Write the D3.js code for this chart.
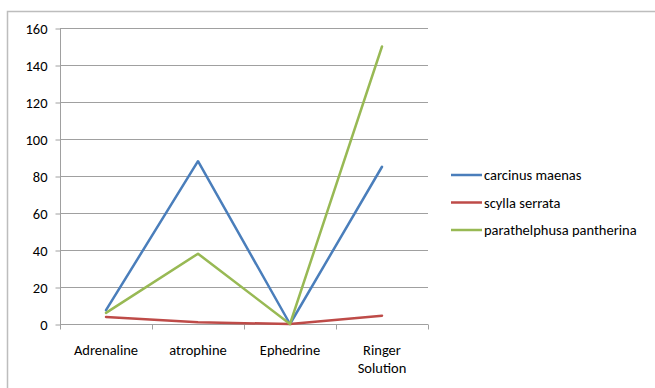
<!DOCTYPE html>
<html><head><meta charset="utf-8">
<script src="https://cdn.jsdelivr.net/npm/d3@7"></script>
<style>body{margin:0;background:#fff}svg{display:block;font-family:Carlito,Lato,"Open Sans",sans-serif}</style>
</head><body>
<script>
const categories = ["Adrenaline", "atrophine", "Ephedrine", "Ringer Solution"];
const seriesNames = ["carcinus maenas", "scylla serrata", "parathelphusa pantherina"];
const carcinus = [7.5, 88, 0, 85];
const scylla = [3.8, 0.9, 0, 4.5];
const parathelphusa = [6, 38, 0, 150];
const yTicks = [0, 20, 40, 60, 80, 100, 120, 140, 160];
const colors = ["#4a7ebb", "#be4b48", "#98b954"];
const FS = 14.5;

const W = 655, H = 388;
const svg = d3.select("body").append("svg").attr("width", W).attr("height", H);
svg.append("rect").attr("x", 7.5).attr("y", 11.5).attr("width", 700).attr("height", 400)
  .attr("fill", "none").attr("stroke", "#bdbdbd").attr("stroke-width", 1.5);

const x = d3.scaleBand().domain(categories).range([60, 428]);
const y = d3.scaleLinear().domain([0, 160]).range([324, 28]);

// gridlines
svg.append("g").selectAll("line").data(yTicks.filter(d => d > 0)).join("line")
  .attr("x1", 60).attr("x2", 428)
  .attr("y1", d => Math.round(y(d)) + 0.5).attr("y2", d => Math.round(y(d)) + 0.5)
  .attr("stroke", "#a0a0a0").attr("stroke-width", 1);

// y axis
const ya = svg.append("g").attr("transform", "translate(60.5,0.5)")
  .call(d3.axisLeft(y).tickValues(yTicks).tickSize(5).tickPadding(8));
ya.select(".domain").attr("stroke", "#a0a0a0").attr("d", `M0,${y(160)}V${y(0)}`);
ya.selectAll(".tick line").attr("stroke", "#a0a0a0");
ya.selectAll("text").attr("font-size", FS).attr("fill", "#000").attr("font-family", "Carlito,Lato,sans-serif");

// x axis
const xa = svg.append("g").attr("transform", `translate(0,${Math.round(y(0)) + 0.5})`);
xa.append("line").attr("x1", 60).attr("x2", 428).attr("stroke", "#a0a0a0");
const bounds = categories.map(c => x(c)).concat([x.range()[1]]);
xa.selectAll("line.t").data(bounds).join("line").attr("class", "t")
  .attr("x1", d => Math.round(d) + 0.5).attr("x2", d => Math.round(d) + 0.5)
  .attr("y1", 0).attr("y2", 5).attr("stroke", "#a0a0a0");
xa.selectAll("text").data(categories).join("text")
  .attr("x", d => x(d) + x.bandwidth() / 2).attr("y", 30)
  .attr("text-anchor", "middle").attr("font-size", FS).attr("fill", "#000")
  .each(function(d) {
    const words = d === "Ringer Solution" ? ["Ringer", "Solution"] : [d];
    words.forEach((w, i) => d3.select(this).append("tspan")
      .attr("x", x(d) + x.bandwidth() / 2).attr("dy", i === 0 ? 0 : 18).text(w));
  });

// lines
const data = [carcinus, scylla, parathelphusa];
const line = d3.line().x((d, i) => x(categories[i]) + x.bandwidth() / 2).y(d => y(d));
svg.append("g").selectAll("path").data(data).join("path")
  .attr("d", line).attr("fill", "none")
  .attr("stroke", (d, i) => colors[i]).attr("stroke-width", 2.5)
  .attr("stroke-linejoin", "round").attr("stroke-linecap", "round");

// legend
const lg = svg.append("g");
const rowsY = [175, 202.5, 230];
seriesNames.forEach((n, i) => {
  lg.append("line").attr("x1", 451).attr("x2", 482).attr("y1", rowsY[i]).attr("y2", rowsY[i])
    .attr("stroke", colors[i]).attr("stroke-width", 2.5);
  lg.append("text").attr("x", 484).attr("y", rowsY[i] + 5).attr("font-size", FS)
    .attr("fill", "#000").text(n);
});
</script>
</body></html>
